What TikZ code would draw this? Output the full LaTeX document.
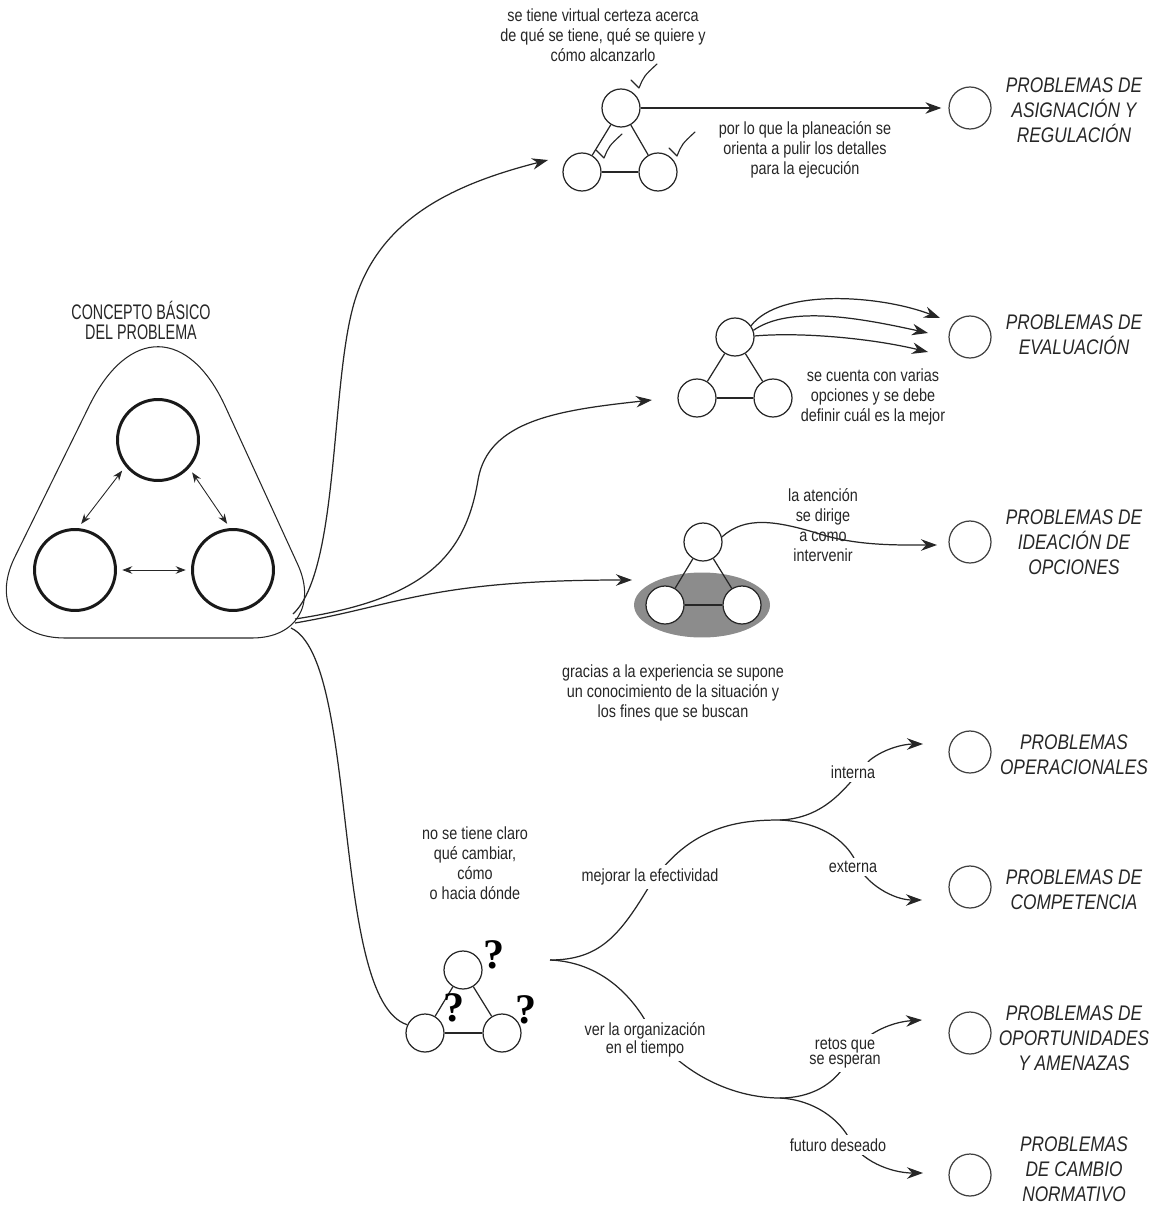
\documentclass[tikz,border=0pt]{standalone}
\usepackage{fontspec}
\setmainfont{Liberation Sans}[FakeStretch=0.82]
\newfontfamily\headfont{Liberation Sans}[FakeStretch=0.68]
\newfontfamily\qmarkfont{Liberation Serif}
\usetikzlibrary{arrows.meta,shapes.geometric}

\begin{document}
\begin{tikzpicture}[
    x=0.02cm, y=-0.02cm,
    ink/.style={
        draw=black!85,
        line width=0.7pt
    },
    dot/.style={
        circle,
        ink,
        fill=white,
        minimum size=0.76cm,
        inner sep=0pt
    },
    bigdot/.style={
        circle,
        draw=black!90,
        line width=1.7pt,
        minimum size=1.62cm,
        inner sep=0pt
    },
    goal/.style={
        circle,
        draw=black!75,
        line width=0.7pt,
        minimum size=0.84cm,
        inner sep=0pt
    },
    note/.style={
        align=center,
        text=black!85,
        font=\fontsize{10}{11.4}\selectfont,
        inner sep=1pt
    },
    tight/.style={
        note,
        font=\fontsize{10}{8.6}\selectfont
    },
    cut/.style={
        fill=white,
        inner sep=2pt
    },
    kind/.style={
        align=center,
        text=black!85,
        inner sep=1pt,
        font=\fontsize{12}{14.2}\selectfont\itshape
    },
    head/.style={
        align=center,
        text=black!85,
        font=\headfont\fontsize{12}{11.4}\selectfont
    },
    qmark/.style={
        font=\qmarkfont\bfseries\fontsize{24}{24}\selectfont,
        inner sep=0pt
    },
    arrow/.style={
        ink,
        -{Stealth[length=3.2mm, width=2.3mm]}
    },
    link/.style={
        ink
    },
    both/.style={
        draw=black!85,
        line width=0.5pt,
        {Stealth[length=2mm, width=1.5mm]}-{Stealth[length=2mm, width=1.5mm]},
        shorten <=3pt,
        shorten >=3pt
    },
    tick/.style={
        draw=black!85,
        line width=0.65pt,
        line join=round,
        line cap=round
    }
]

\path[use as bounding box] (0,0) rectangle (1153,1209);

% concepto basico
\node[head] (title) at (141,320)
{
    CONCEPTO BÁSICO\\
    DEL PROBLEMA
};

\draw[line width=0.6pt, draw=black!85]
    (89.4,405.5) .. controls (128.4,326.2) and (189.5,327.3) .. (225.9,407.8)
    -- (298,565) .. controls (316,605) and (296,638) .. (252,638)
    -- (65,638) .. controls (15.3,638) and (-7.2,601.9) .. (14.7,557.3)
    -- cycle;

\node[bigdot] (ctop) at (158,440) {};
\node[bigdot] (cleft) at (75,570) {};
\node[bigdot] (cright) at (233,570) {};

\draw[both] (ctop.219) -- (cleft.86);
\draw[both] (ctop.318) -- (cright.94);
\draw[both] (cleft) -- (cright);

\coordinate (out1) at (293,614);
\coordinate (out2) at (295,619);
\coordinate (out3) at (295,623);
\coordinate (out4) at (291,628);

% asignacion y regulacion
\node[note] (sure) at (603,35)
{
    se tiene virtual certeza acerca\\
    de qué se tiene, qué se quiere y\\
    cómo alcanzarlo
};

\node[dot] (atop) at (621,108) {};
\node[dot] (aleft) at (582,172) {};
\node[dot] (aright) at (658,172) {};

\draw[link] (atop) -- (aleft);
\draw[link] (atop) -- (aright);
\draw[link] (aleft) -- (aright);

\foreach \x/\y in {631/80, 596/150, 669/148}
    \draw[tick] (\x,\y) -- (\x+8,\y+8)
        .. controls (\x+13,\y-4) .. (\x+26,\y-16);

\node[goal] (g1) at (970,108) {};
\node[kind] (k1) at (1074,110)
{
    PROBLEMAS DE\\
    ASIGNACIÓN Y\\
    REGULACIÓN
};

\node[note] (polish) at (805,150)
{
    por lo que la planeación se\\
    orienta a pulir los detalles\\
    para la ejecución
};

\draw[arrow, shorten >=4pt] (atop) -- (g1);

\coordinate (in1) at (548,160);
\draw[arrow] (out1) .. controls (340,570) and (330,380) .. (355,300)
    .. controls (380,220) and (450,185) .. (in1);

% evaluacion
\node[dot] (etop) at (735,337) {};
\node[dot] (eleft) at (697,398) {};
\node[dot] (eright) at (773,398) {};

\draw[link] (etop) -- (eleft);
\draw[link] (etop) -- (eright);
\draw[link] (eleft) -- (eright);

\node[goal] (g2) at (970,337) {};
\node[kind] (k2) at (1074,335)
{
    PROBLEMAS DE\\
    EVALUACIÓN
};

\coordinate (e1) at (940,318);
\coordinate (e2) at (928,333);
\coordinate (e3) at (928,352);
\draw[arrow] (etop.35) .. controls (780,288) and (880,295) .. (e1);
\draw[arrow] (etop.20) .. controls (790,305) and (860,318) .. (e2);
\draw[arrow] (etop.3) .. controls (800,332) and (870,338) .. (e3);

\node[note] (many) at (873,397)
{
    se cuenta con varias\\
    opciones y se debe\\
    definir cuál es la mejor
};

\coordinate (in2) at (652,400);
\draw[arrow] (out2) .. controls (420,600) and (465,560) .. (478,480)
    .. controls (488,420) and (560,410) .. (in2);

% ideacion de opciones
\node[ellipse, fill=black!45, minimum width=2.72cm, minimum height=1.3cm,
    inner sep=0pt] (shade) at (702,605) {};

\node[dot] (itop) at (703,542) {};
\node[dot] (ileft) at (665,605) {};
\node[dot] (iright) at (742,605) {};

\draw[link] (itop) -- (ileft);
\draw[link] (itop) -- (iright);
\draw[link] (ileft) -- (iright);

\node[goal] (g3) at (970,542) {};
\node[kind] (k3) at (1074,542)
{
    PROBLEMAS DE\\
    IDEACIÓN DE\\
    OPCIONES
};

\node[note] (focus) at (823,525)
{
    la atención\\
    se dirige\\
    a como\\
    intervenir
};

\coordinate (i1) at (937,545);
\draw[arrow] (itop.15) .. controls (745,516) and (775,520) .. (823,535)
    .. controls (860,546) and (900,545) .. (i1);

\node[note] (exp) at (673,693)
{
    gracias a la experiencia se supone\\
    un conocimiento de la situación y\\
    los fines que se buscan
};

\coordinate (in3) at (632,580);
\draw[arrow] (out3) .. controls (400,605) and (430,580) .. (in3);

% no se tiene claro
\node[note] (unclear) at (475,863)
{
    no se tiene claro\\
    qué cambiar,\\
    cómo\\
    o hacia dónde
};

\node[dot] (qtop) at (463,970) {};
\node[dot] (qleft) at (425,1033) {};
\node[dot] (qright) at (502,1033) {};

\draw[link] (qtop) -- (qleft);
\draw[link] (qtop) -- (qright);
\draw[link] (qleft) -- (qright);

\node[qmark] (q1) at (494,955) {?};
\node[qmark] (q2) at (454,1008) {?};
\node[qmark] (q3) at (526,1010) {?};

\draw[link] (out4) .. controls (360,660) and (330,1000) .. (qleft.155);

\coordinate (fork) at (550,960);
\coordinate (fork1) at (780,820);
\coordinate (fork2) at (780,1098);

\draw[link] (fork) .. controls (600,960) and (620,935) .. (650,885)
    .. controls (690,825) and (740,820) .. (fork1);
\draw[link] (fork) .. controls (600,962) and (630,995) .. (645,1020)
    .. controls (665,1060) and (720,1098) .. (fork2);

\coordinate (o1) at (923,744);
\coordinate (o2) at (922,900);
\coordinate (o3) at (922,1020);
\coordinate (o4) at (923,1173);

\draw[arrow] (fork1) .. controls (830,818) and (850,780) .. (870,760)
    .. controls (885,748) and (905,744) .. (o1);
\draw[arrow] (fork1) .. controls (820,822) and (845,840) .. (855,860)
    .. controls (865,885) and (895,900) .. (o2);
\draw[arrow] (fork2) .. controls (810,1098) and (835,1085) .. (848,1060)
    .. controls (860,1035) and (890,1022) .. (o3);
\draw[arrow] (fork2) .. controls (815,1100) and (840,1120) .. (850,1140)
    .. controls (860,1160) and (890,1173) .. (o4);

\node[note, cut] (better) at (650,877) {mejorar la efectividad};
\node[note, cut] (inner) at (853,772) {interna};
\node[note, cut] (outer) at (853,867) {externa};
\node[tight, cut] (time) at (645,1040)
{
    ver la organización\\
    en el tiempo
};
\node[tight, cut] (await) at (845,1053)
{
    retos que\\
    se esperan
};
\node[note, cut] (wish) at (838,1145) {futuro deseado};

\node[goal] (g4) at (970,752) {};
\node[kind] (k4) at (1074,755)
{
    PROBLEMAS\\
    OPERACIONALES
};

\node[goal] (g5) at (970,887) {};
\node[kind] (k5) at (1074,890)
{
    PROBLEMAS DE\\
    COMPETENCIA
};

\node[goal] (g6) at (970,1033) {};
\node[kind] (k6) at (1074,1038)
{
    PROBLEMAS DE\\
    OPORTUNIDADES\\
    Y AMENAZAS
};

\node[goal] (g7) at (970,1175) {};
\node[kind] (k7) at (1074,1169)
{
    PROBLEMAS\\
    DE CAMBIO\\
    NORMATIVO
};

\end{tikzpicture}
\end{document}
